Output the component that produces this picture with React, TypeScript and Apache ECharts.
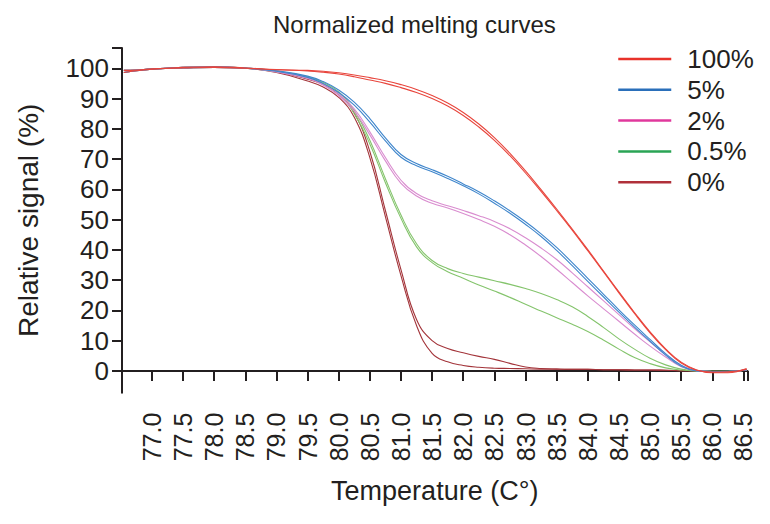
import React, { useEffect, useRef } from "react";
import * as echarts from "echarts";

const temps = [76.55, 76.75, 77.0, 77.5, 78.0, 78.5, 79.0, 79.5, 79.75, 80.0, 80.25, 80.5, 80.75, 81.0, 81.25, 81.5, 81.75, 82.0, 82.25, 82.5, 82.75, 83.0, 83.25, 83.5, 83.75, 84.0, 84.25, 84.5, 84.75, 85.0, 85.25, 85.5, 85.75, 86.0, 86.25, 86.55];

const startA = [98.6, 99.2, 99.7, 100.3, 100.5, 100.1];
const startB = [99.3, 99.4, 99.8, 100.1, 100.3, 100.0];

const red100a = [...startA, 99.6, 99.3, 99.0, 98.5, 97.8, 96.9, 95.9, 94.6, 93.0, 91.0, 88.5, 85.4, 81.6, 77.1, 71.9, 66.1, 59.9, 53.5, 46.9, 40.1, 33.1, 26.1, 19.3, 12.9, 7.3, 2.9, 0.3, -0.6, -0.6, 0.8];
const red100b = [...startB, 99.5, 99.1, 98.7, 98.1, 97.2, 96.1, 95.0, 93.6, 92.0, 90.0, 87.5, 84.4, 80.6, 76.2, 71.1, 65.4, 59.3, 53.0, 46.5, 39.7, 32.8, 25.8, 19.0, 12.6, 7.0, 2.6, 0.2, -0.4, -0.3, 0.5];
const blue5a = [...startA, 99.2, 97.4, 95.6, 92.8, 88.8, 83.4, 77.0, 71.5, 68.5, 66.5, 64.3, 61.8, 59.2, 56.2, 52.9, 49.3, 45.3, 40.8, 35.8, 30.6, 25.4, 20.2, 15.2, 10.4, 5.7, 1.9, 0.1, -0.2, -0.2, 0.4];
const blue5b = [...startB, 99.0, 97.0, 95.0, 92.0, 87.8, 82.2, 76.0, 70.6, 67.8, 65.8, 63.6, 61.2, 58.5, 55.4, 52.1, 48.4, 44.4, 39.8, 34.8, 29.6, 24.5, 19.4, 14.5, 9.8, 5.2, 1.5, 0.0, -0.2, -0.1, 0.3];
const pink2a = [...startA, 99.0, 96.9, 94.8, 91.6, 86.6, 79.0, 70.5, 63.0, 58.6, 56.2, 54.6, 53.0, 51.3, 49.4, 47.0, 44.0, 40.6, 36.8, 32.4, 27.8, 23.2, 18.6, 14.0, 9.6, 5.4, 1.8, 0.1, -0.2, -0.2, 0.3];
const pink2b = [...startB, 98.8, 96.6, 94.4, 91.0, 85.8, 78.0, 69.4, 62.0, 57.8, 55.4, 53.8, 52.0, 50.0, 47.8, 45.0, 41.6, 37.8, 33.6, 29.2, 24.8, 20.6, 16.4, 12.2, 8.2, 4.6, 1.4, 0.1, -0.2, -0.2, 0.3];
const green05a = [...startA, 99.1, 97.2, 95.3, 92.2, 86.0, 76.2, 63.5, 51.5, 42.0, 36.5, 33.8, 32.2, 31.0, 29.8, 28.6, 27.2, 25.6, 23.6, 21.2, 18.0, 14.4, 10.6, 7.2, 4.2, 2.0, 0.6, 0.0, -0.1, -0.1, 0.2];
const green05b = [...startB, 98.9, 96.9, 94.8, 91.5, 85.0, 75.0, 62.2, 50.4, 41.0, 35.8, 32.8, 30.6, 28.4, 26.4, 24.3, 22.0, 19.8, 17.6, 15.4, 13.0, 10.2, 7.2, 4.4, 2.4, 1.0, 0.3, 0.0, -0.1, -0.1, 0.2];
const dark0a = [...startA, 98.9, 96.4, 94.6, 91.4, 85.2, 72.5, 53.0, 33.5, 17.0, 10.0, 7.4, 6.0, 4.8, 3.8, 2.5, 1.3, 0.8, 0.6, 0.5, 0.5, 0.4, 0.4, 0.3, 0.3, 0.2, 0.1, 0.0, -0.3, -0.3, 0.4];
const dark0b = [...startB, 98.6, 95.8, 93.8, 90.4, 83.8, 70.5, 51.0, 31.5, 15.0, 5.8, 3.0, 1.8, 1.2, 0.9, 0.8, 0.7, 0.6, 0.6, 0.5, 0.5, 0.4, 0.4, 0.3, 0.3, 0.2, 0.1, 0.0, -0.3, -0.3, 0.4];

const seriesNames = ["100%", "5%", "2%", "0.5%", "0%"];
const curveColors = ["#e8453c", "#3f86cc", "#d98ccf", "#84c46c", "#a3343a"];
const legendColors = ["#e8322a", "#2a6fba", "#e0389c", "#2aa455", "#b0303a"];
const replicates = [
  [red100a, red100b],
  [blue5a, blue5b],
  [pink2a, pink2b],
  [green05a, green05b],
  [dark0a, dark0b],
];

const xTicks = [77.0, 77.5, 78.0, 78.5, 79.0, 79.5, 80.0, 80.5, 81.0, 81.5, 82.0, 82.5, 83.0, 83.5, 84.0, 84.5, 85.0, 85.5, 86.0, 86.5];
const yTicks = [0, 10, 20, 30, 40, 50, 60, 70, 80, 90, 100];

const X_MIN = 76.52;
const X_MAX = 86.565;
const Y_MIN = -7.2;
const Y_MAX = 106.7;

export default function App() {
  const ref = useRef<HTMLDivElement>(null);
  useEffect(() => {
    const chart = echarts.init(ref.current!, null, { renderer: "svg" });
    const font = "'Liberation Sans', Arial, Helvetica, sans-serif";
    const ink = "#231f20";
    const series: any[] = [];
    replicates.forEach((pair, i) => {
      pair.forEach((vals) => {
        series.push({
          type: "line",
          name: seriesNames[i],
          data: temps.map((t, k) => [t, vals[k]]),
          symbol: "none",
          smooth: 0.45,
          lineStyle: { color: curveColors[i], width: 1.1 },
          itemStyle: { color: curveColors[i] },
          z: 10 - i,
        });
      });
    });
    chart.setOption({
      animation: false,
      textStyle: { fontFamily: font, color: ink },
      title: {
        text: "Normalized melting curves",
        left: 273,
        top: 12,
        padding: 0,
        textStyle: { fontSize: 24, fontWeight: "normal", color: ink, fontFamily: font },
      },
      legend: {
        orient: "vertical",
        left: 617,
        top: 46,
        padding: 0,
        itemWidth: 53,
        itemHeight: 26,
        itemGap: 4.8,
        selectedMode: false,
        textStyle: { fontSize: 26, color: ink, fontFamily: font, padding: [0, 0, 0, 11] },
        data: seriesNames.map((n, i) => ({
          name: n,
          lineStyle: { color: legendColors[i], width: 2.5 },
          itemStyle: { color: "rgba(0,0,0,0)", opacity: 0, borderWidth: 0 },
        })),
      },
      grid: { left: 122, right: 22.5, top: 48, bottom: 131.3 },
      xAxis: {
        type: "value",
        min: X_MIN,
        max: X_MAX,
        name: "Temperature (C°)",
        nameLocation: "middle",
        nameGap: 85,
        nameTextStyle: { fontSize: 27, color: ink, fontFamily: font },
        axisLine: { lineStyle: { color: ink, width: 2 } },
        axisTick: { length: 10, lineStyle: { color: ink, width: 2 }, customValues: [...xTicks, X_MAX] },
        axisLabel: {
          rotate: 90,
          margin: 20,
          fontSize: 25,
          color: ink,
          fontFamily: font,
          customValues: xTicks,
          formatter: (v: number) => v.toFixed(1),
        },
        splitLine: { show: false },
      },
      yAxis: {
        type: "value",
        min: Y_MIN,
        max: Y_MAX,
        name: "Relative signal (%)",
        nameLocation: "middle",
        nameGap: 80,
        nameTextStyle: { fontSize: 28, color: ink, fontFamily: font },
        axisLine: { show: true, lineStyle: { color: ink, width: 2 } },
        axisTick: { show: true, length: 10, lineStyle: { color: ink, width: 2 }, customValues: [...yTicks, Y_MAX] },
        axisLabel: {
          margin: 13,
          fontSize: 26,
          color: ink,
          fontFamily: font,
          customValues: yTicks,
        },
        splitLine: { show: false },
      },
      series,
    });
    return () => chart.dispose();
  }, []);
  return <div ref={ref} style={{ position: "fixed", left: 0, top: 0, width: 770, height: 524, background: "#fff" }} />;
}
